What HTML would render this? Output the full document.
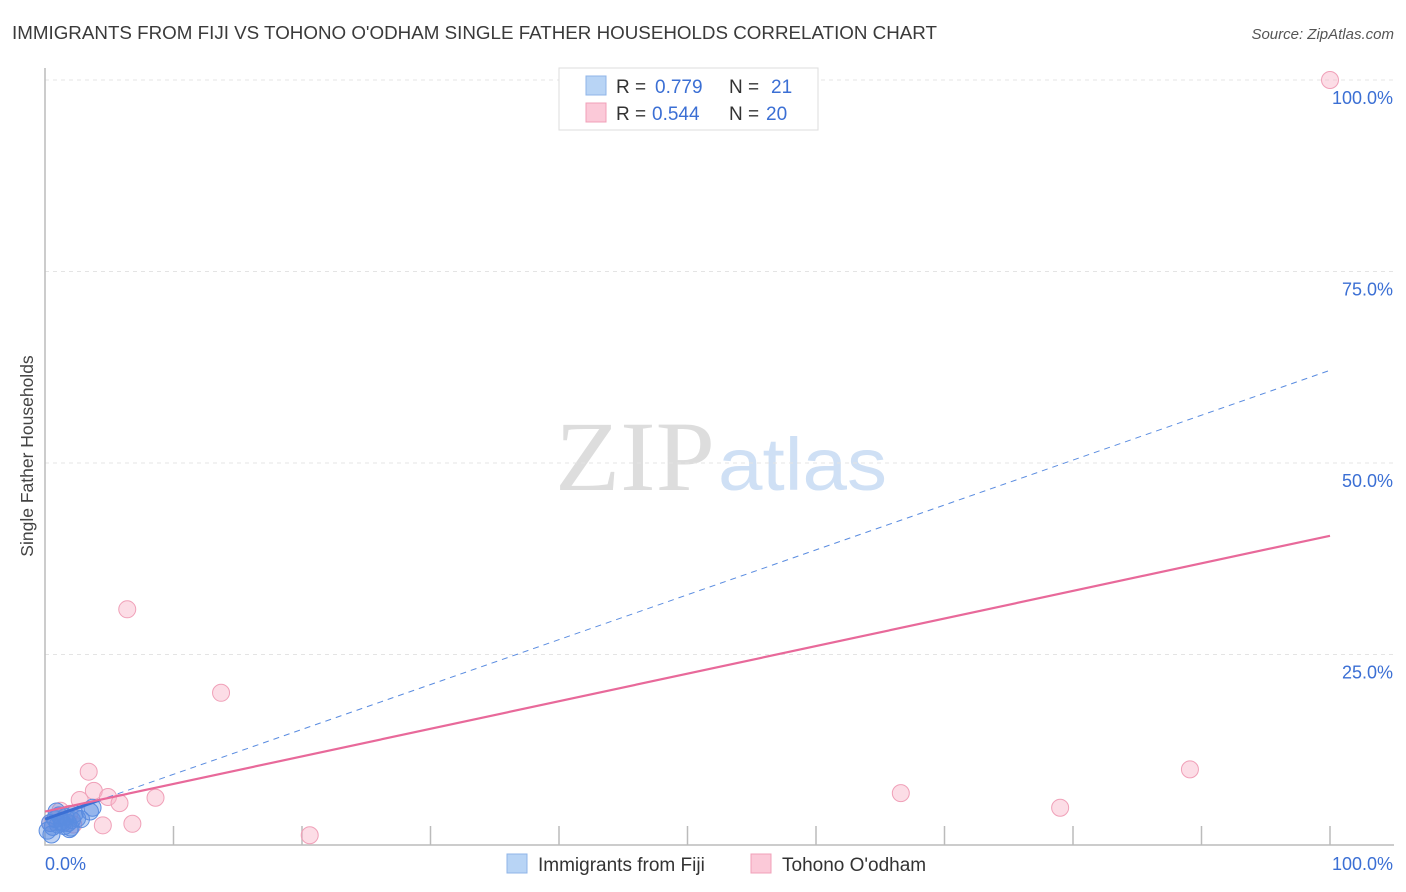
<!DOCTYPE html>
<html><head><meta charset="utf-8"><style>
body{margin:0;background:#fff;font-family:"Liberation Sans",sans-serif}
svg{display:block}
</style></head><body>
<svg id="c" width="1406" height="892" xmlns="http://www.w3.org/2000/svg">
<text x="12" y="39" font-size="18" fill="#3a3a3a" textLength="925" lengthAdjust="spacingAndGlyphs">IMMIGRANTS FROM FIJI VS TOHONO O'ODHAM SINGLE FATHER HOUSEHOLDS CORRELATION CHART</text>
<text x="1394" y="39" font-size="15" fill="#555" font-style="italic" text-anchor="end">Source: ZipAtlas.com</text>
<text x="33" y="456" font-size="17.5" fill="#444" text-anchor="middle" transform="rotate(-90 33 456)">Single Father Households</text>
<text x="555" y="490" font-size="100" fill="#ddd" font-family="Liberation Serif,serif" textLength="160" lengthAdjust="spacingAndGlyphs">ZIP</text>
<text x="718" y="490" font-size="74" fill="#cfe0f5" textLength="169" lengthAdjust="spacingAndGlyphs">atlas</text>
<g id="grid"></g><g id="marks"></g>
<g font-size="19">
<rect x="559" y="68" width="259" height="62" fill="#fff" stroke="#ddd"/>
<rect x="586" y="76" width="20" height="19" fill="#b8d4f5" stroke="#8fb5e8"/>
<rect x="586" y="103" width="20" height="19" fill="#fbc9d8" stroke="#f0a0b8"/>
<text x="616" y="93" fill="#333">R =</text><text x="655" y="93" fill="#3b6fd4">0.779</text>
<text x="729" y="93" fill="#333">N =</text><text x="771" y="93" fill="#3b6fd4">21</text>
<text x="616" y="120" fill="#333">R =</text><text x="652" y="120" fill="#3b6fd4">0.544</text>
<text x="729" y="120" fill="#333">N =</text><text x="766" y="120" fill="#3b6fd4">20</text>
</g>
<g>
<rect x="507" y="854" width="20" height="19" fill="#b8d4f5" stroke="#8fb5e8"/>
<text x="538" y="871" font-size="19" fill="#333">Immigrants from Fiji</text>
<rect x="751" y="854" width="20" height="19" fill="#fbc9d8" stroke="#f0a0b8"/>
<text x="782" y="871" font-size="19" fill="#333">Tohono O'odham</text>
</g>
</svg>
<script>
const yTicks=[25,50,75,100];
const yTickLabels=["25.0%","50.0%","75.0%","100.0%"];
const xTickLabels=["0.0%","100.0%"];
const fijiX=[0.2,0.4,0.6,0.8,1.0,1.1,1.3,1.5,1.6,1.8,2.0,2.1,2.3,2.5,0.5,0.9,1.4,1.9,2.8,3.5,3.7];
const fijiY=[2.0,3.0,2.5,3.5,2.8,4.0,3.2,2.6,3.8,3.0,2.4,3.4,4.2,3.6,1.5,4.5,3.0,2.2,3.5,4.5,5.0];
const tohX=[100,6.4,13.7,3.4,3.8,4.9,2.7,5.8,8.6,4.5,6.8,20.6,66.6,79,89.1,1.2,0.4,1.9,0.8,2.2];
const tohY=[100,30.9,20,9.7,7.2,6.4,6.0,5.6,6.3,2.7,2.9,1.4,6.9,5.0,10,4.6,3.0,4.2,3.6,2.8];
const fijiTrend=[3.5,62.1];
const tohTrend=[4.5,40.5];
const X=v=>45+v*12.85, Y=v=>846-v*7.66;
const NS="http://www.w3.org/2000/svg";
function mk(t,a,p){const e=document.createElementNS(NS,t);for(const k in a)e.setAttribute(k,a[k]);p.appendChild(e);return e;}
const g=document.getElementById('grid'),m=document.getElementById('marks');
yTicks.forEach((t,i)=>{
 const l=mk('line',{x1:45,x2:1394,y1:Y(t),y2:Y(t),stroke:'#e4e4e4','stroke-dasharray':'4,4'},g);
 
 
 const tx=mk('text',{x:1393,y:Y(t)+24,'font-size':18,fill:'#3b6fd4','text-anchor':'end'},g);
 tx.textContent=yTickLabels[i];
 
 
});
const ax=mk('path',{d:'M45 68V845H1394',stroke:'#bbb',fill:'none','stroke-width':1.5},g);


for(let i=1;i<=10;i++){
 const t=mk('line',{x1:X(i*10),x2:X(i*10),y1:826,y2:845,stroke:'#bbb','stroke-width':1.5},g);
 
 
}
[[0,'start',45],[100,'end',1393]].forEach((d,i)=>{
 const t=mk('text',{x:d[2],y:870,'font-size':18,fill:'#3b6fd4','text-anchor':d[1]},g);
 t.textContent=xTickLabels[i];
 
 
});
tohX.forEach((x,i)=>{
 const c=mk('circle',{cx:X(x),cy:Y(tohY[i]),r:8.5,fill:'rgba(248,180,200,0.45)',stroke:'#f0a0b8','stroke-width':1},m);
 
 
});
fijiX.forEach((x,i)=>{
 const c=mk('circle',{cx:X(x),cy:Y(fijiY[i]),r:8.5,fill:'rgba(90,140,225,0.4)',stroke:'#5a8ce0','stroke-width':1},m);
 
 
});
const bt=mk('line',{x1:X(0),y1:Y(fijiTrend[0]),x2:X(100),y2:Y(fijiTrend[1]),stroke:'#5a8ce0','stroke-width':1,'stroke-dasharray':'6,5'},m);


const bs=mk('line',{x1:X(0),y1:Y(fijiTrend[0]),x2:X(4.3),y2:Y(fijiTrend[0]+0.586*4.3),stroke:'#3b6fd4','stroke-width':3},m);


const pt=mk('line',{x1:X(0),y1:Y(tohTrend[0]),x2:X(100),y2:Y(tohTrend[1]),stroke:'#e8699a','stroke-width':2.2},m);


</script>
</body></html>
